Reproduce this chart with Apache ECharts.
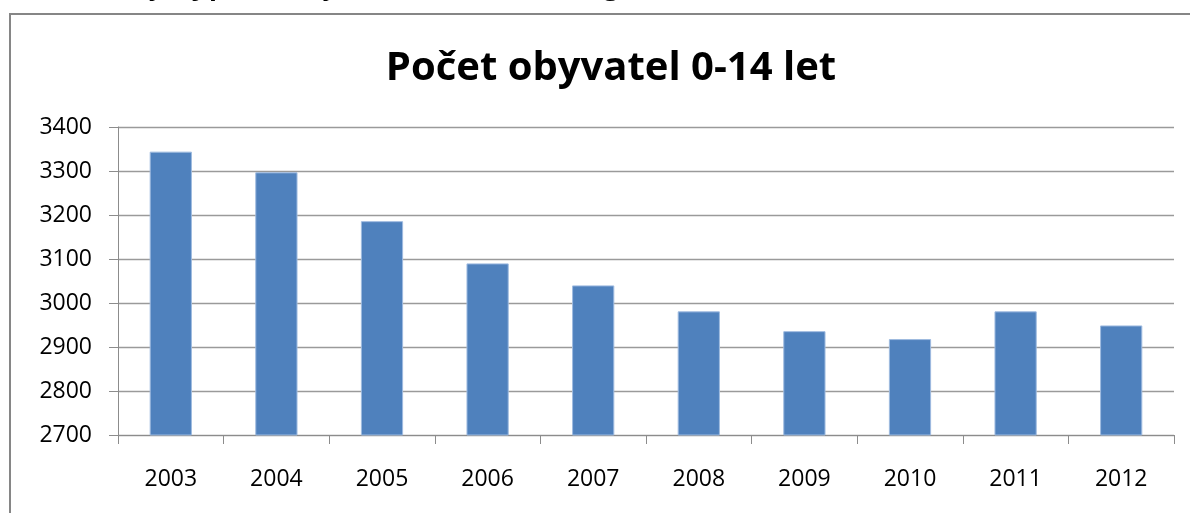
<!DOCTYPE html>
<html>
<head>
<meta charset="utf-8">
<script src="https://cdn.jsdelivr.net/npm/echarts@6/dist/echarts.min.js"></script>
<style>
    html, body { margin: 0; padding: 0; background: #fff; }
    #chart { width: 1190px; height: 513px; }
</style>
</head>
<body>
<div id="chart"></div>
<script>
// data
var years = ['2003', '2004', '2005', '2006', '2007', '2008', '2009', '2010', '2011', '2012'];
var pocet = [3344, 3297, 3186, 3090, 3040, 2981, 2936, 2918, 2981, 2949];
var yMin = 2700, yMax = 3400, yStep = 100;

var myChart = echarts.init(document.getElementById('chart'));

var font = '"Open Sans", "Noto Sans", sans-serif';

var option = {
    animation: false,
    title: {
        text: 'Počet obyvatel 0-14 let',
        left: 606,
        top: 44,
        textAlign: 'center',
        textStyle: {
            fontFamily: font,
            fontWeight: 'bold',
            fontSize: 40,
            color: '#000'
        }
    },
    graphic: [
        {   // caption cut off at the top edge
            type: 'text',
            x: 12,
            y: -12,
            style: {
                text: 'Graf č. 1: Vývoj počtu obyvatel ve věkové kategorii 0-14 let',
                font: 'bold 26px ' + font,
                fill: '#000',
                verticalAlign: 'middle'
            }
        },
        {   // chart frame
            type: 'rect',
            shape: {x: 10, y: 14, width: 1200, height: 520},
            style: {fill: 'none', stroke: '#868686', lineWidth: 2}
        }
    ],
    grid: {
        left: 118,
        right: 16,
        top: 127,
        bottom: 78
    },
    xAxis: {
        type: 'category',
        data: years,
        boundaryGap: true,
        axisLine: {lineStyle: {color: '#8c8c8c', width: 1}},
        axisTick: {show: true, length: 9, alignWithLabel: false, lineStyle: {color: '#8c8c8c'}},
        axisLabel: {
            margin: 33,
            fontFamily: font,
            fontSize: 23,
            color: '#000'
        }
    },
    yAxis: {
        type: 'value',
        min: yMin,
        max: yMax,
        interval: yStep,
        axisLine: {show: true, lineStyle: {color: '#8c8c8c', width: 1}},
        axisTick: {show: true, length: 9, lineStyle: {color: '#8c8c8c'}},
        splitLine: {lineStyle: {color: '#9a9a9a', width: 1.3}},
        axisLabel: {
            margin: 26,
            fontFamily: font,
            fontSize: 23,
            color: '#000',
            formatter: function (v) {
                return String(v);
            }
        }
    },
    series: [
        {
            name: 'Počet obyvatel 0-14 let',
            type: 'bar',
            data: pocet,
            barCategoryGap: '60%',
            itemStyle: {
                color: '#4F81BD',
                borderColor: '#9fbbe0',
                borderWidth: 1
            }
        }
    ]
};

myChart.setOption(option);
</script>
</body>
</html>
